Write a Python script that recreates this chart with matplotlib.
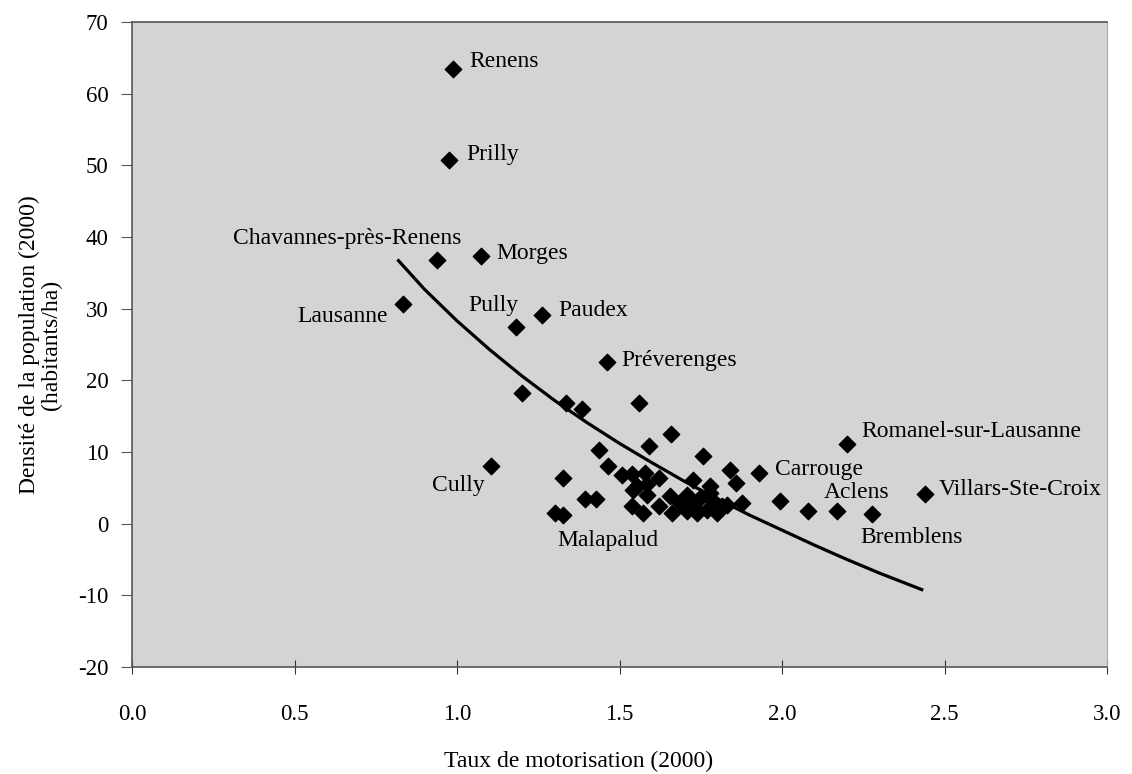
import numpy as np
import matplotlib.pyplot as plt

# communes: taux de motorisation (x) vs densite (y)
motorisation = [
    0.987, 0.975, 0.937, 1.074, 0.835, 1.180, 1.260, 1.460, 1.105,
    2.199, 1.930, 2.440, 2.276, 2.170, 1.302,
    1.199, 1.335, 1.384, 1.561, 1.658, 1.592, 1.436, 1.756, 1.464,
    1.327, 1.507, 1.537, 1.578, 1.620, 1.553, 1.584, 1.584, 1.543,
    1.727, 1.779, 1.840, 1.858, 1.394, 1.428, 1.537, 1.573, 1.620,
    1.327, 1.655, 1.661,
    1.686, 1.707, 1.727, 1.748, 1.769, 1.789, 1.800, 1.815, 1.831,
    1.778, 1.738, 1.707, 1.877, 1.994, 2.081,
]
densite = [
    63.5, 50.7, 36.8, 37.4, 30.6, 27.5, 29.1, 22.6, 8.0,
    11.1, 7.1, 4.1, 1.4, 1.8, 1.5,
    18.3, 16.9, 16.0, 16.8, 12.5, 10.8, 10.3, 9.5, 8.1,
    6.4, 6.8, 7.0, 7.1, 6.4, 5.2, 5.6, 4.0, 4.7,
    6.1, 5.3, 7.5, 5.7, 3.5, 3.4, 2.5, 1.5, 2.4,
    1.2, 3.8, 1.5,
    2.9, 4.0, 2.4, 3.6, 1.9, 3.1, 1.5, 2.4, 2.6,
    4.3, 1.5, 1.7, 2.9, 3.1, 1.8,
]

# logarithmic trend line
trend_x = [0.82, 0.9, 1.0, 1.1, 1.2, 1.3, 1.4, 1.5, 1.6,
           1.7, 1.8, 1.9, 2.0, 2.1, 2.2, 2.3, 2.43]
trend_y = [36.7, 32.7, 28.3, 24.3, 20.6, 17.2, 14.1, 11.2, 8.5,
           5.9, 3.5, 1.2, -0.9, -3.0, -5.0, -6.9, -9.2]

# commune names and where their text sits
names = [
    "Renens", "Prilly", "Chavannes-près-Renens", "Morges", "Lausanne",
    "Pully", "Paudex", "Préverenges", "Cully", "Romanel-sur-Lausanne",
    "Carrouge", "Aclens", "Villars-Ste-Croix", "Bremblens", "Malapalud",
]
name_x = [1.037, 1.028, 1.014, 1.120, 0.786, 1.113, 1.312, 1.507, 1.086,
          2.245, 1.978, 2.129, 2.481, 2.240, 1.308]
name_y = [64.5, 51.5, 39.8, 37.7, 28.9, 30.5, 29.8, 22.8, 5.3,
          12.8, 7.5, 4.35, 4.7, -1.9, -2.4]
name_ha = ["left", "left", "right", "left", "right",
           "center", "left", "left", "right", "left",
           "left", "left", "left", "left", "left"]

x_ticks = [0.0, 0.5, 1.0, 1.5, 2.0, 2.5, 3.0]
y_ticks = [-20, -10, 0, 10, 20, 30, 40, 50, 60, 70]

plt.rcParams["font.family"] = ["Liberation Serif", "DejaVu Serif"]
plt.rcParams["font.size"] = 16.5
plt.rcParams["axes.unicode_minus"] = False

fig = plt.figure(
    figsize=(11.32, 7.74),
    dpi=100,
)
ax = fig.add_axes([132 / 1132, 1 - 667 / 774, 975 / 1132, 645 / 774])
ax.set_facecolor("#d4d4d4")

ax.plot(
    trend_x,
    trend_y,
    color="black",
    linewidth=2.3,
    zorder=2,
)

ax.scatter(
    motorisation,
    densite,
    marker="D",
    s=70,
    color="black",
    zorder=3,
)

for name, tx, ty, ha in zip(names, name_x, name_y, name_ha):
    ax.text(tx, ty, name, ha=ha, va="center", fontsize=17, zorder=4)

ax.set_xlim(0, 3)
ax.set_ylim(-20, 70)
ax.set_xticks(x_ticks)
ax.set_xticklabels([f"{t:.1f}" for t in x_ticks])
ax.set_yticks(y_ticks)

ax.tick_params(axis="x", direction="inout", length=10, pad=22, width=0.8, colors="#333333", labelcolor="black")
ax.tick_params(axis="y", direction="out", length=8, pad=9, width=0.8, colors="#555555", labelcolor="black")

for side in ["left", "top", "bottom"]:
    ax.spines[side].set_color("#555555")
    ax.spines[side].set_linewidth(1.2)
ax.spines["right"].set_color("#aaaaaa")
ax.spines["right"].set_linewidth(0.8)

ax.set_xlabel("Taux de motorisation (2000)", fontsize=17)
ax.xaxis.set_label_coords(0.458, -0.13)
ax.set_ylabel("Densité de la population (2000)\n(habitants/ha)", fontsize=17, linespacing=1.05)
ax.yaxis.set_label_coords(-0.072, 0.5)

fig.savefig("out.png", dpi=100)
